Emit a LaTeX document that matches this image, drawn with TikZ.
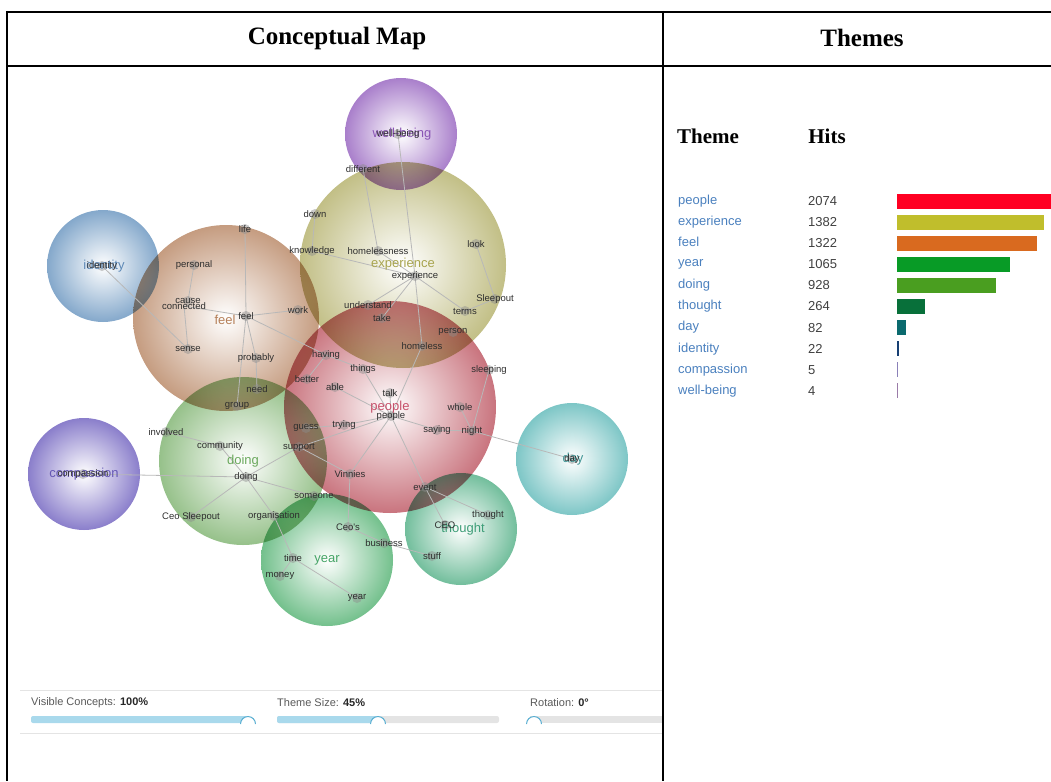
\documentclass[tikz,border=0pt]{standalone}
\usepackage{fontspec}
\setmainfont{Liberation Serif}
\newfontfamily\mapfont{Liberation Sans}
\usetikzlibrary{calc}

% bubble colours
\definecolor{cWell}{HTML}{A97FCB}
\definecolor{cExp}{HTML}{C2BF86}
\definecolor{cIdent}{HTML}{84A8CB}
\definecolor{cFeel}{HTML}{C59C80}
\definecolor{cPeople}{HTML}{C9747E}
\definecolor{cDoing}{HTML}{96C18A}
\definecolor{cComp}{HTML}{8A7ECB}
\definecolor{cDay}{HTML}{7DC6C6}
\definecolor{cThought}{HTML}{72BE9C}
\definecolor{cYear}{HTML}{73C08C}
% theme label colours
\definecolor{lWell}{HTML}{8A55B5}
\definecolor{lExp}{HTML}{A8A44E}
\definecolor{lIdent}{HTML}{5C88B6}
\definecolor{lFeel}{HTML}{B57F58}
\definecolor{lPeople}{HTML}{C6506A}
\definecolor{lDoing}{HTML}{6AA85C}
\definecolor{lComp}{HTML}{6558B5}
\definecolor{lDay}{HTML}{3E9494}
\definecolor{lThought}{HTML}{3E9E78}
\definecolor{lYear}{HTML}{45A466}
% bar colours
\definecolor{barPeople}{HTML}{FF0022}
\definecolor{barExp}{HTML}{C0BE2C}
\definecolor{barFeel}{HTML}{D96A1F}
\definecolor{barYear}{HTML}{089B26}
\definecolor{barDoing}{HTML}{4A9E20}
\definecolor{barThought}{HTML}{08703A}
\definecolor{barDay}{HTML}{0B6A6E}
\definecolor{barIdent}{HTML}{173F73}
\definecolor{barComp}{HTML}{8A80B8}
\definecolor{barWell}{HTML}{9A7BA8}
\definecolor{conceptText}{HTML}{2E2E2E}
\definecolor{linkGrey}{HTML}{B8B8B8}
\definecolor{dotGrey}{HTML}{8C8C8C}
\definecolor{rowBlue}{HTML}{4A80BE}
\definecolor{uiGrey}{HTML}{E4E4E4}
\definecolor{uiBlue}{HTML}{A9D9EC}
\definecolor{knobBlue}{HTML}{5AAFD2}

\pgfdeclarelayer{bubbles}
\pgfdeclarelayer{links}
\pgfsetlayers{bubbles,links,main}

\tikzset{
  bubble/.style={shading=radial, inner color=white, outer color=#1, blend mode=multiply},
  theme/.style={font=\mapfont\fontsize{13}{13}\selectfont, text=#1, inner sep=0pt},
  concept/.style={font=\mapfont\fontsize{9.5}{9.5}\selectfont, text=conceptText, inner sep=0pt},
  link/.style={draw=linkGrey, line width=0.8pt},
  dot/.style={fill=dotGrey, fill opacity=0.45},
  rule/.style={line width=2pt},
  uitext/.style={font=\mapfont\fontsize{11}{11}\selectfont, text=black!65, anchor=west, inner sep=0pt},
}

\begin{document}
\begin{tikzpicture}[x=1pt,y=-1pt]

\useasboundingbox (0,0) rectangle (1051,781);

% table frame
\draw[rule] (6,12) -- (1051,12);
\draw[rule] (6,66) -- (1051,66);
\draw[rule] (7,11) -- (7,781);
\draw[rule] (663,11) -- (663,781);
\node[font=\fontsize{25}{25}\selectfont\bfseries] (hMap) at (337,38) {Conceptual Map};
\node[font=\fontsize{25}{25}\selectfont\bfseries] (hThemes) at (862,38) {Themes};

% theme bubbles
\begin{pgfonlayer}{bubbles}
\path[bubble=cExp] (403,265) circle[radius=103];
\path[bubble=cWell] (401,134) circle[radius=56];
\path[bubble=cIdent] (103,266) circle[radius=56];
\path[bubble=cFeel] (226,318) circle[radius=93];
\path[bubble=cPeople] (390,407) circle[radius=106];
\path[bubble=cDoing] (243,461) circle[radius=84];
\path[bubble=cComp] (84,474) circle[radius=56];
\path[bubble=cDay] (572,459) circle[radius=56];
\path[bubble=cThought] (461,529) circle[radius=56];
\path[bubble=cYear] (327,560) circle[radius=66];
\end{pgfonlayer}

% theme labels
\node[theme=lWell] (tWell) at (402,134) {well-being};
\node[theme=lExp] (tExp) at (403,264) {experience};
\node[theme=lIdent] (tIdent) at (104,266) {identity};
\node[theme=lFeel] (tFeel) at (225,320) {feel};
\node[theme=lPeople] (tPeople) at (390,407) {people};
\node[theme=lDoing] (tDoing) at (243,461) {doing};
\node[theme=lComp] (tComp) at (84,474) {compassion};
\node[theme=lDay] (tDay) at (573,459) {day};
\node[theme=lThought] (tThought) at (463,529) {thought};
\node[theme=lYear] (tYear) at (327,560) {year};

% concepts
\node[concept] (wellbeing) at (398,134) {well-being};
\node[concept] (different) at (363,169) {different};
\node[concept] (down) at (315,214) {down};
\node[concept] (knowledge) at (312,251) {knowledge};
\node[concept] (homelessness) at (378,251) {homelessness};
\node[concept] (look) at (476,244) {look};
\node[concept] (experience) at (415,276) {experience};
\node[concept] (sleepout) at (495,299) {Sleepout};
\node[concept] (terms) at (465,311) {terms};
\node[concept] (understand) at (368,305) {understand};
\node[concept] (take) at (382,318) {take};
\node[concept] (person) at (453,332) {person};
\node[concept] (homeless) at (422,346) {homeless};
\node[concept] (life) at (245,229) {life};
\node[concept] (personal) at (194,265) {personal};
\node[concept] (cause) at (188,301) {cause};
\node[concept] (connected) at (184,306) {connected};
\node[concept] (work) at (298,310) {work};
\node[concept] (feel) at (246,316) {feel};
\node[concept] (sense) at (188,349) {sense};
\node[concept] (probably) at (256,358) {probably};
\node[concept] (need) at (257,389) {need};
\node[concept] (group) at (237,406) {group};
\node[concept] (having) at (326,355) {having};
\node[concept] (things) at (363,369) {things};
\node[concept] (better) at (307,379) {better};
\node[concept] (able) at (335,387) {able};
\node[concept] (talk) at (390,393) {talk};
\node[concept] (people) at (391,416) {people};
\node[concept] (sleeping) at (489,370) {sleeping};
\node[concept] (whole) at (460,407) {whole};
\node[concept] (saying) at (437,430) {saying};
\node[concept] (night) at (472,431) {night};
\node[concept] (trying) at (344,425) {trying};
\node[concept] (guess) at (306,428) {guess};
\node[concept] (support) at (299,447) {support};
\node[concept] (involved) at (166,432) {involved};
\node[concept] (community) at (220,446) {community};
\node[concept] (doing) at (246,477) {doing};
\node[concept] (vinnies) at (350,474) {Vinnies};
\node[concept] (someone) at (314,496) {someone};
\node[concept] (event) at (425,487) {event};
\node[concept] (ceosleepout) at (191,517) {Ceo Sleepout};
\node[concept] (organisation) at (274,516) {organisation};
\node[concept] (ceos) at (348,527) {Ceo's};
\node[concept] (business) at (384,543) {business};
\node[concept] (stuff) at (432,556) {stuff};
\node[concept] (thought) at (488,515) {thought};
\node[concept] (ceo) at (445,525) {CEO};
\node[concept] (time) at (293,558) {time};
\node[concept] (money) at (280,576) {money};
\node[concept] (year) at (357,598) {year};
\node[concept] (day) at (572,459) {day};
\node[concept] (compassion) at (83,474) {compassion};
\node[concept] (identity) at (102,266) {identity};

% links and dots
\begin{pgfonlayer}{links}
\foreach \a/\b in {wellbeing/experience, experience/homeless, homeless/people,
  different/homelessness, homelessness/experience, down/knowledge,
  knowledge/experience, look/sleepout, sleepout/terms, terms/experience,
  understand/experience, take/experience, life/feel, personal/cause,
  connected/feel, connected/sense, identity/sense, feel/work, feel/probably,
  feel/group, probably/need, feel/having, having/better, having/things,
  things/people, able/people, talk/people, sleeping/night, whole/night,
  people/saying, saying/night, night/day, guess/trying, trying/people,
  support/people, support/doing, support/vinnies, vinnies/people,
  vinnies/ceos, event/people, event/ceo, event/thought, compassion/doing,
  doing/community, community/involved, doing/ceosleepout,
  doing/organisation, organisation/time, doing/someone, time/money,
  time/year, ceos/business, business/stuff}
  \draw[link] (\a.center) -- (\b.center);
\foreach \n in {wellbeing, different, down, knowledge, homelessness, look,
  experience, sleepout, terms, understand, take, person, homeless, life,
  personal, cause, work, feel, sense, probably, need, group, having, things,
  better, able, talk, people, sleeping, whole, saying, night, trying, guess,
  support, involved, community, doing, vinnies, someone, event, ceosleepout,
  organisation, ceos, business, stuff, thought, ceo, time, money, year, day,
  compassion, identity}
  \fill[dot] (\n.center) circle[radius=5];
\end{pgfonlayer}

% slider bar
\draw[uiGrey, line width=1pt] (20,690) -- (662,690);
\draw[uiGrey, line width=1pt] (20,733) -- (662,733);
\node[uitext] (visible) at (31,703) {Visible Concepts: \textbf{\color{black!85}100\%}};
\node[uitext] (size) at (277,703) {Theme Size: \textbf{\color{black!85}45\%}};
\node[uitext] (rotation) at (530,703) {Rotation: \textbf{\color{black!85}0°}};
\fill[uiGrey, rounded corners=2] (277,716) rectangle (499,723);
\fill[uiGrey] (530,716) rectangle (662,723);
\fill[uiBlue, rounded corners=2] (31,716) rectangle (248,723);
\fill[uiBlue, rounded corners=2] (277,716) rectangle (378,723);
\foreach \k in {248,378,534}
  \draw[knobBlue, fill=white, line width=1pt] (\k-7.5,724) arc[start angle=180, end angle=360, radius=7.5];

% themes table
\node[font=\fontsize{21}{21}\selectfont\bfseries] (hTheme) at (708,136) {Theme};
\node[font=\fontsize{21}{21}\selectfont\bfseries] (hHits) at (827,136) {Hits};
\foreach \nm/\hits/\col [count=\i from 0] in {people/2074/barPeople,
  experience/1382/barExp, feel/1322/barFeel, year/1065/barYear,
  doing/928/barDoing, thought/264/barThought, day/82/barDay,
  identity/22/barIdent, compassion/5/barComp, well-being/4/barWell}
{
  \pgfmathsetmacro{\ry}{201+21.1*\i}
  \pgfmathsetmacro{\xe}{min(897+max(\hits*0.1062,1.2),1051)}
  \node[anchor=west, inner sep=0pt, font=\mapfont\fontsize{13}{13}\selectfont, text=rowBlue] (row\i) at (678,\ry) {\nm\vphantom{py}};
  \node[anchor=west, inner sep=0pt, font=\mapfont\fontsize{13}{13}\selectfont, text=black!75] (hits\i) at (808,\ry) {\hits};
  \fill[\col] (897,\ry-7.5) rectangle (\xe,\ry+7.5);
}

\end{tikzpicture}
\end{document}
